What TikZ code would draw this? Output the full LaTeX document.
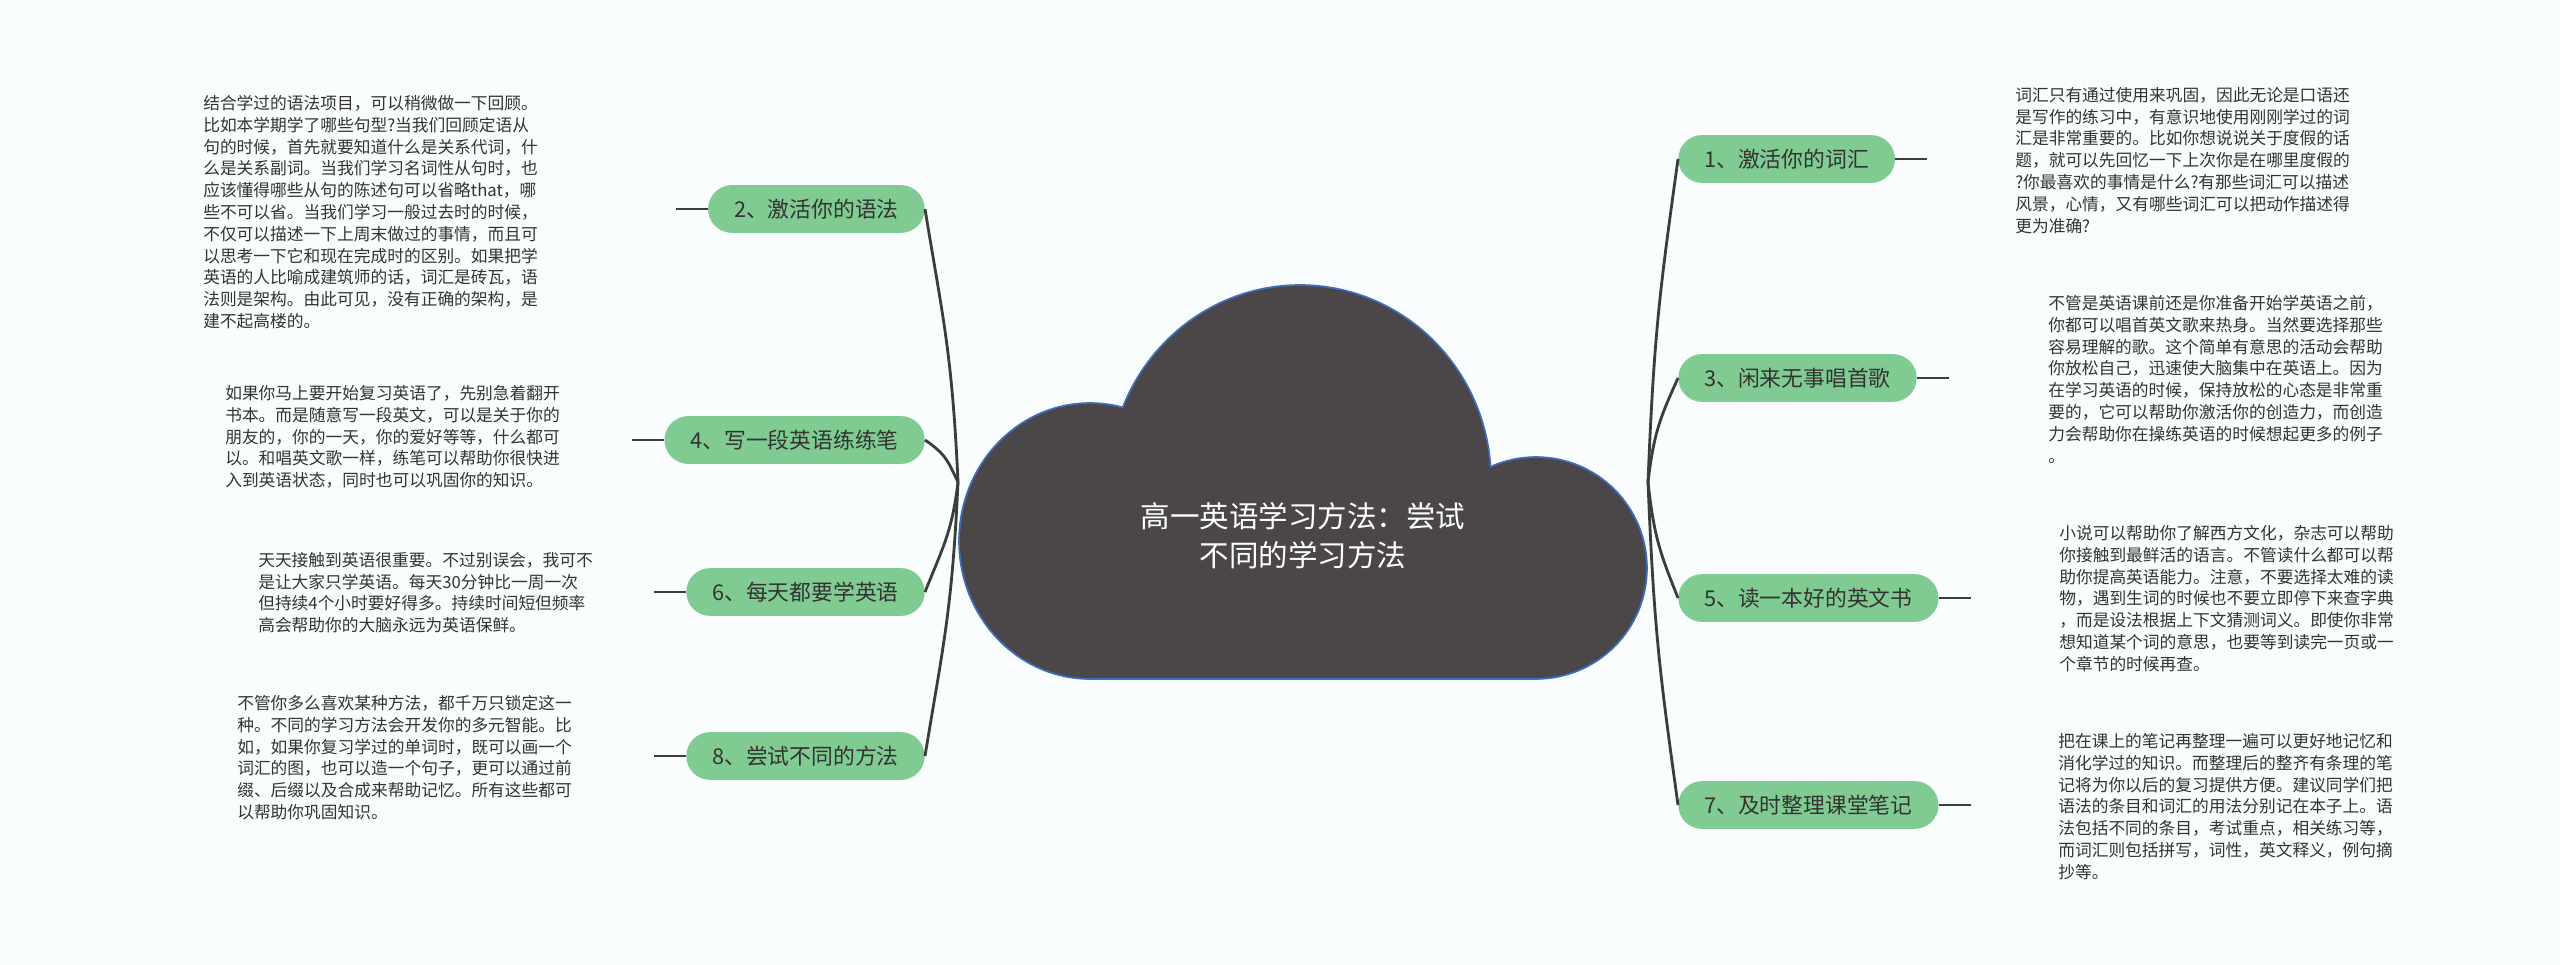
\documentclass[tikz,border=0pt]{standalone}
\usepackage{fontspec}
\newfontfamily\cjk{Noto Sans CJK SC}
\definecolor{bgcol}{RGB}{249,253,253}
\definecolor{cloudgray}{RGB}{75,70,71}
\definecolor{cloudblue}{RGB}{64,110,190}
\definecolor{topicgreen}{RGB}{128,203,145}
\definecolor{inkgray}{RGB}{51,51,51}
\definecolor{linegray}{RGB}{60,60,60}
\tikzset{
  topic/.style={fill=topicgreen,rounded corners=17pt,minimum height=34pt,inner xsep=18.5pt,inner ysep=0pt,text=inkgray,font=\cjk\fontsize{15.5pt}{18pt}\selectfont},
  note/.style={anchor=north west,align=left,inner sep=0pt,text=inkgray,font=\cjk\fontsize{11.9pt}{15.5pt}\selectfont},
  title/.style={align=center,text=white,font=\cjk\fontsize{21pt}{27.7pt}\selectfont},
  branch/.style={draw=linegray,line width=2pt},
  cloudline/.style={draw=cloudblue,line width=2.6pt},
  cloudfill/.style={fill=cloudgray},
}
\begin{document}
\begin{tikzpicture}[x=0.25mm,y=0.25mm]
\fill[bgcol] (0,0) rectangle (2560,-965);
\useasboundingbox (0,0) rectangle (2560,-965);

\draw[cloudline] (1090,-541) ellipse [x radius=130,y radius=137];
\draw[cloudline] (1300,-480) ellipse [x radius=190,y radius=194];
\draw[cloudline] (1536,-568) ellipse [x radius=110,y radius=110];
\draw[cloudline] (1090,-540) rectangle (1536,-678);
\fill[cloudfill] (1090,-541) ellipse [x radius=130,y radius=137];
\fill[cloudfill] (1300,-480) ellipse [x radius=190,y radius=194];
\fill[cloudfill] (1536,-568) ellipse [x radius=110,y radius=110];
\fill[cloudfill] (1090,-540) rectangle (1536,-678);
\node[title] (title) at (1303,-536) {高一英语学习方法：尝试\\不同的学习方法};

\coordinate (lroot) at (958,-482);
\coordinate (rroot) at (1648,-482);

\node[topic,anchor=west] (n1) at (1678,-159) {1、激活你的词汇};
\node[topic,anchor=east] (n2) at (925,-209) {2、激活你的语法};
\node[topic,anchor=west] (n3) at (1678,-378) {3、闲来无事唱首歌};
\node[topic,anchor=east] (n4) at (925,-440) {4、写一段英语练练笔};
\node[topic,anchor=west] (n5) at (1678,-598) {5、读一本好的英文书};
\node[topic,anchor=east] (n6) at (925,-592) {6、每天都要学英语};
\node[topic,anchor=west] (n7) at (1678,-805) {7、及时整理课堂笔记};
\node[topic,anchor=east] (n8) at (925,-756) {8、尝试不同的方法};

\draw[branch] (lroot) .. controls +(-6,130) and +(18,-110) .. (n2.east);
\draw[branch] (lroot) .. controls +(-10,20) and +(22,-15) .. (n4.east);
\draw[branch] (lroot) .. controls +(-6,-50) and +(18,45) .. (n6.east);
\draw[branch] (lroot) .. controls +(-6,-130) and +(18,110) .. (n8.east);
\draw[branch] (rroot) .. controls +(6,150) and +(-18,-130) .. (n1.west);
\draw[branch] (rroot) .. controls +(6,50) and +(-18,-40) .. (n3.west);
\draw[branch] (rroot) .. controls +(6,-55) and +(-18,45) .. (n5.west);
\draw[branch] (rroot) .. controls +(6,-150) and +(-18,130) .. (n7.west);

\draw[branch] (n1.east) -- ++(32,0);
\draw[branch] (n3.east) -- ++(32,0);
\draw[branch] (n5.east) -- ++(32,0);
\draw[branch] (n7.east) -- ++(32,0);
\draw[branch] (n2.west) -- ++(-32,0);
\draw[branch] (n4.west) -- ++(-32,0);
\draw[branch] (n6.west) -- ++(-32,0);
\draw[branch] (n8.west) -- ++(-32,0);

\node[note] (t1) at (2015,-87) {词汇只有通过使用来巩固，因此无论是口语还\\是写作的练习中，有意识地使用刚刚学过的词\\汇是非常重要的。比如你想说说关于度假的话\\题，就可以先回忆一下上次你是在哪里度假的\\?你最喜欢的事情是什么?有那些词汇可以描述\\风景，心情，又有哪些词汇可以把动作描述得\\更为准确?};
\node[note] (t2) at (203,-95) {结合学过的语法项目，可以稍微做一下回顾。\\比如本学期学了哪些句型?当我们回顾定语从\\句的时候，首先就要知道什么是关系代词，什\\么是关系副词。当我们学习名词性从句时，也\\应该懂得哪些从句的陈述句可以省略that，哪\\些不可以省。当我们学习一般过去时的时候，\\不仅可以描述一下上周末做过的事情，而且可\\以思考一下它和现在完成时的区别。如果把学\\英语的人比喻成建筑师的话，词汇是砖瓦，语\\法则是架构。由此可见，没有正确的架构，是\\建不起高楼的。};
\node[note] (t3) at (2048,-295) {不管是英语课前还是你准备开始学英语之前，\\你都可以唱首英文歌来热身。当然要选择那些\\容易理解的歌。这个简单有意思的活动会帮助\\你放松自己，迅速使大脑集中在英语上。因为\\在学习英语的时候，保持放松的心态是非常重\\要的，它可以帮助你激活你的创造力，而创造\\力会帮助你在操练英语的时候想起更多的例子\\。};
\node[note] (t4) at (225,-385) {如果你马上要开始复习英语了，先别急着翻开\\书本。而是随意写一段英文，可以是关于你的\\朋友的，你的一天，你的爱好等等，什么都可\\以。和唱英文歌一样，练笔可以帮助你很快进\\入到英语状态，同时也可以巩固你的知识。};
\node[note] (t5) at (2059,-525) {小说可以帮助你了解西方文化，杂志可以帮助\\你接触到最鲜活的语言。不管读什么都可以帮\\助你提高英语能力。注意，不要选择太难的读\\物，遇到生词的时候也不要立即停下来查字典\\，而是设法根据上下文猜测词义。即使你非常\\想知道某个词的意思，也要等到读完一页或一\\个章节的时候再查。};
\node[note] (t6) at (258,-552) {天天接触到英语很重要。不过别误会，我可不\\是让大家只学英语。每天30分钟比一周一次\\但持续4个小时要好得多。持续时间短但频率\\高会帮助你的大脑永远为英语保鲜。};
\node[note] (t7) at (2058,-733) {把在课上的笔记再整理一遍可以更好地记忆和\\消化学过的知识。而整理后的整齐有条理的笔\\记将为你以后的复习提供方便。建议同学们把\\语法的条目和词汇的用法分别记在本子上。语\\法包括不同的条目，考试重点，相关练习等，\\而词汇则包括拼写，词性，英文释义，例句摘\\抄等。};
\node[note] (t8) at (237,-695) {不管你多么喜欢某种方法，都千万只锁定这一\\种。不同的学习方法会开发你的多元智能。比\\如，如果你复习学过的单词时，既可以画一个\\词汇的图，也可以造一个句子，更可以通过前\\缀、后缀以及合成来帮助记忆。所有这些都可\\以帮助你巩固知识。};
\end{tikzpicture}
\end{document}
